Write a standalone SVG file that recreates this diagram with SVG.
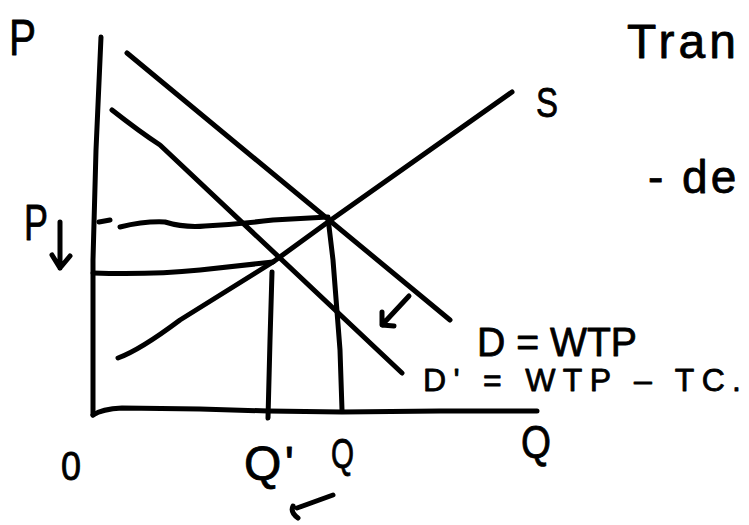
<svg xmlns="http://www.w3.org/2000/svg" width="749" height="525" viewBox="0 0 749 525">
<style>
.ln{fill:none;stroke:#000;stroke-width:5;stroke-linecap:round;stroke-linejoin:round}
.t{font-family:"Liberation Sans",Arial,sans-serif;fill:#000;stroke:#000;stroke-width:0.8;stroke-linejoin:round}
</style>
<rect width="749" height="525" fill="#fff"/>
<g id="axes">
<path class="ln" d="M101,37 L96,150 L93,260 L93,415"/>
<path class="ln" d="M93,415 Q102,409 122,408 L200,409 L268,411 L342,412 L440,411 L537,411"/>
</g>
<g id="curves">
<path id="demand" class="ln" d="M127,53 L450,320"/>
<path id="demand2" class="ln" d="M112,110 Q140,132 160,145 L402,373"/>
<path id="supply" class="ln" d="M118,358 Q140,350 180,320 L273,262 L328,222 L512,92"/>
<path class="ln" d="M99,222 L110,220"/>
<path class="ln" d="M120,227 Q145,221 165,222 Q185,228 205,226 Q240,224 273,220 L328,217"/>
<path class="ln" d="M93,273 Q150,275 200,270 L273,262"/>
<path class="ln" d="M272,272 L270,340 L268,418"/>
<path class="ln" d="M328,218 L333,260 L340,350 L342,410"/>
<path class="ln" d="M409,296 L382,325 M382,312 L382,325 L394,326"/>
<path class="ln" d="M60,222 L60,268 M52,255 L60,268 L70,256"/>
<path class="ln" d="M333,495 L297,508 M293,506 Q290,512 298,518"/>
</g>
<g id="labels">
<text class="t" x="9" y="55" font-size="50" textLength="27" lengthAdjust="spacingAndGlyphs">P</text>
<text class="t" x="24" y="240" font-size="50" textLength="24" lengthAdjust="spacingAndGlyphs">P</text>
<text class="t" x="627" y="58" font-size="48" letter-spacing="4">Tran</text>
<text class="t" x="536" y="117" font-size="42" textLength="22" lengthAdjust="spacingAndGlyphs">S</text>
<text class="t" x="648" y="193" font-size="46" letter-spacing="3">- de</text>
<text class="t" x="477" y="356" font-size="40" textLength="160" lengthAdjust="spacingAndGlyphs">D = WTP</text>
<text class="t" x="423" y="391" font-size="32" textLength="318" lengthAdjust="spacing">D' = WTP – TC.</text>
<text class="t" x="61" y="480" font-size="40" textLength="20" lengthAdjust="spacingAndGlyphs">0</text>
<text class="t" x="244" y="480" font-size="48" textLength="50" lengthAdjust="spacing">Q'</text>
<text class="t" x="331" y="468" font-size="42" textLength="23" lengthAdjust="spacingAndGlyphs">Q</text>
<text class="t" x="521" y="458" font-size="46" textLength="30" lengthAdjust="spacingAndGlyphs">Q</text>
</g>
</svg>
